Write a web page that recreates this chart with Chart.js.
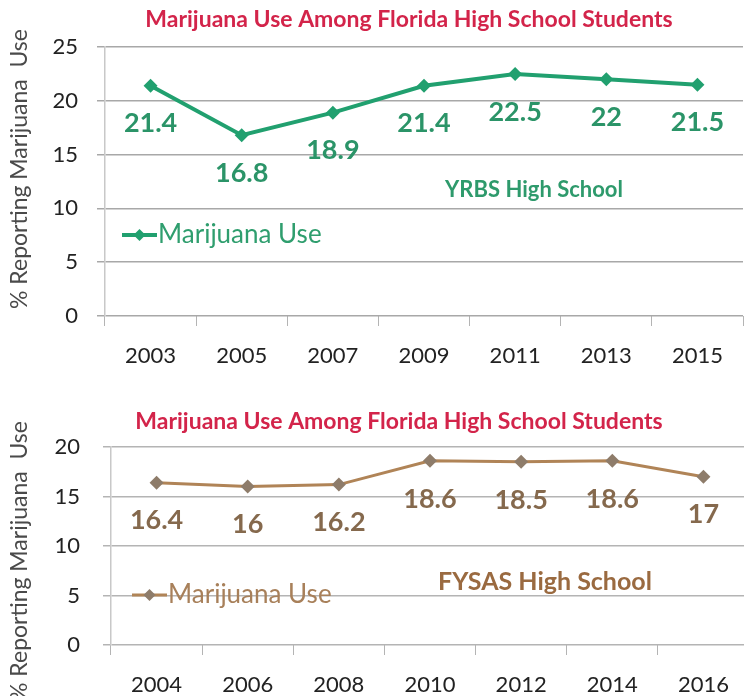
<!DOCTYPE html>
<html lang="es">
<head>
<meta charset="utf-8">
<title>Uso de marihuana</title>
<script src="https://cdn.jsdelivr.net/npm/chart.js@4"></script>
<style>
  html, body { margin: 0; padding: 0; background: #fff; overflow: hidden; }
  body { width: 744px; height: 696px; position: relative; }
  canvas { position: absolute; left: 0; }
  #graficaYRBS { top: 0; }
  #graficaFYSAS { top: 390px; }
</style>
</head>
<body>
<canvas id="graficaYRBS" width="750" height="390"></canvas>
<canvas id="graficaFYSAS" width="756" height="306"></canvas>
<script>
const titulo = 'Marijuana Use Among Florida High School Students';
const tituloEjeY = '% Reporting Marijuana  Use';
const nombreSerie = 'Marijuana Use';

// Encuesta YRBS
const aniosYRBS = ['2003', '2005', '2007', '2009', '2011', '2013', '2015'];
const usoYRBS = [21.4, 16.8, 18.9, 21.4, 22.5, 22, 21.5];
const maxYRBS = 25;

// Encuesta FYSAS
const aniosFYSAS = ['2004', '2006', '2008', '2010', '2012', '2014', '2016'];
const usoFYSAS = [16.4, 16, 16.2, 18.6, 18.5, 18.6, 17];
const maxFYSAS = 20;

Chart.defaults.font.family = 'Lato';

// Titulo, titulo del eje, etiquetas de valores, leyenda y nota
const textosPlugin = {
  id: 'textos',
  afterDatasetsDraw(chart, args, o) {
    const ctx = chart.ctx;
    const area = chart.chartArea;
    const ds = chart.data.datasets[0];
    ctx.save();
    ctx.textBaseline = 'middle';

    ctx.textAlign = 'center';
    ctx.font = 'bold 23px Lato';
    ctx.fillStyle = '#d3244a';
    ctx.fillText(titulo, o.tituloX, o.tituloY);

    ctx.save();
    ctx.translate(20, o.ejeYCentro);
    ctx.rotate(-Math.PI / 2);
    ctx.font = '23px Lato';
    ctx.fillStyle = '#4a4a4a';
    ctx.fillText(tituloEjeY, 0, 0);
    ctx.restore();

    ctx.font = 'bold 27px Lato';
    ctx.fillStyle = o.colorEtiquetas;
    chart.getDatasetMeta(0).data.forEach((p, i) => {
      ctx.fillText(String(ds.data[i]), p.x, p.y + 38);
    });

    // leyenda dentro del area
    const lx = area.left + o.leyendaX;
    const ly = o.leyendaY;
    ctx.strokeStyle = ds.borderColor;
    ctx.lineWidth = ds.borderWidth;
    ctx.beginPath();
    ctx.moveTo(lx, ly);
    ctx.lineTo(lx + 35, ly);
    ctx.stroke();
    ctx.fillStyle = ds.pointBackgroundColor;
    ctx.beginPath();
    ctx.moveTo(lx + 17.5 - 6, ly);
    ctx.lineTo(lx + 17.5, ly - 6);
    ctx.lineTo(lx + 17.5 + 6, ly);
    ctx.lineTo(lx + 17.5, ly + 6);
    ctx.closePath();
    ctx.fill();
    ctx.textAlign = 'left';
    ctx.font = '26px Lato';
    ctx.fillStyle = o.colorLeyenda;
    ctx.fillText(ds.label, lx + 36, ly);

    ctx.textAlign = 'center';
    ctx.font = 'bold ' + o.notaTam + 'px Lato';
    ctx.fillStyle = o.colorNota;
    ctx.fillText(o.nota, o.notaX, o.notaY);
    ctx.restore();
  }
};

function crearGrafica(id, anios, valores, max, a) {
  return new Chart(document.getElementById(id), {
    type: 'line',
    data: {
      labels: anios,
      datasets: [{
        label: nombreSerie,
        data: valores,
        borderColor: a.colorLinea,
        borderWidth: a.grosor,
        pointStyle: 'rectRot',
        pointRadius: 7,
        pointBackgroundColor: a.colorPunto,
        pointBorderWidth: 0,
        tension: 0
      }]
    },
    options: {
      responsive: false,
      animation: false,
      layout: { padding: { top: a.arriba, right: 1, left: 0, bottom: 0 } },
      plugins: {
        legend: { display: false },
        tooltip: { enabled: false },
        textos: a.textos
      },
      scales: {
        x: {
          offset: true,
          grid: { offset: true, drawOnChartArea: false, tickLength: 10, color: '#b4b4b4' },
          border: { display: false },
          ticks: { font: { size: 22 }, color: '#222', padding: 17, maxRotation: 0 },
          afterFit: s => { s.height = a.altoX; }
        },
        y: {
          min: 0,
          max: max,
          ticks: { stepSize: 5, font: { size: 22 }, color: '#222', padding: a.padTicks },
          grid: { color: a.colorGrid, lineWidth: 1.5, tickLength: 8 },
          border: { color: '#c8c8c8', width: 1.5 },
          afterFit: s => { s.width = a.anchoY; }
        }
      }
    },
    plugins: [textosPlugin]
  });
}

crearGrafica('graficaYRBS', aniosYRBS, usoYRBS, maxYRBS, {
  colorLinea: '#21a06f',
  colorPunto: '#21a06f',
  grosor: 4,
  arriba: 47,
  altoX: 74,
  anchoY: 105,
  padTicks: 19,
  colorGrid: '#a8a8a8',
  textos: {
    tituloX: 409, tituloY: 20, ejeYCentro: 169,
    colorEtiquetas: '#2b9468',
    leyendaX: 17, leyendaY: 235, colorLeyenda: '#2f9e6e',
    nota: 'YRBS High School', notaX: 534, notaY: 190, notaTam: 22, colorNota: '#2e9a6c'
  }
});

crearGrafica('graficaFYSAS', aniosFYSAS, usoFYSAS, maxFYSAS, {
  colorLinea: '#b08457',
  colorPunto: '#8e7c6a',
  grosor: 3,
  arriba: 57,
  altoX: 51,
  anchoY: 111,
  padTicks: 23,
  colorGrid: '#b4b4b4',
  textos: {
    tituloX: 399, tituloY: 32, ejeYCentro: 171,
    colorEtiquetas: '#85694d',
    leyendaX: 21, leyendaY: 205, colorLeyenda: '#a8805a',
    nota: 'FYSAS High School', notaX: 545, notaY: 192, notaTam: 25, colorNota: '#9a6a40'
  }
});
</script>
</body>
</html>
